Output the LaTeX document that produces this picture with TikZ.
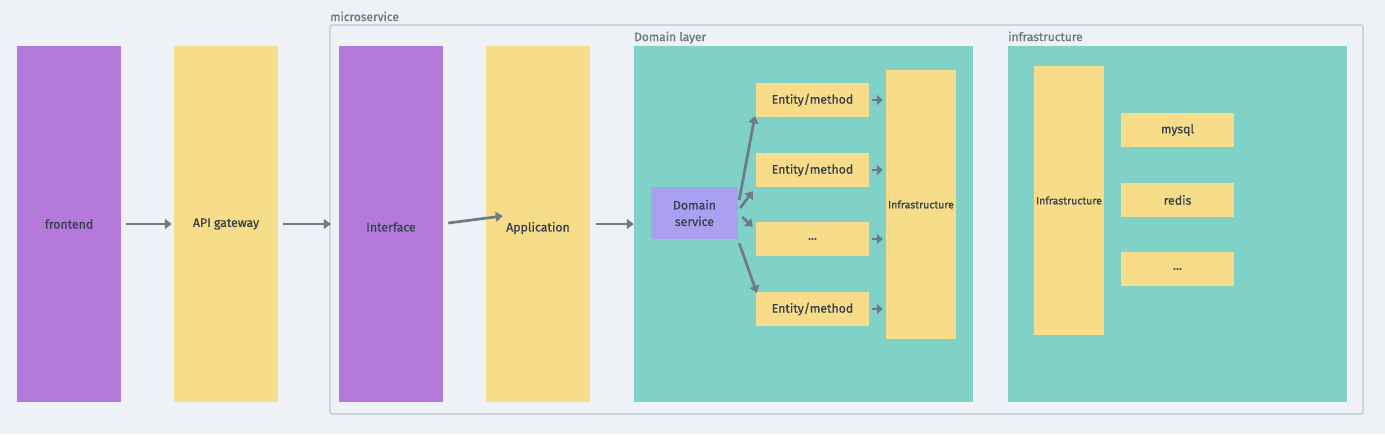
\documentclass[tikz,border=0pt]{standalone}
\usepackage{fontspec}
\setmainfont{Fira Sans}[UprightFeatures={FakeBold=0.8}]
\usetikzlibrary{arrows.meta,calc}
\definecolor{bg}{HTML}{EEF1F5}
\definecolor{purp}{HTML}{B479DA}
\definecolor{yel}{HTML}{F7DC8A}
\definecolor{teal}{HTML}{80D1C7}
\definecolor{lav}{HTML}{AB9FF2}
\definecolor{arrc}{HTML}{6E7A87}
\definecolor{txt}{HTML}{36404E}
\definecolor{grp}{HTML}{6B7785}
\definecolor{frame}{HTML}{BDC6D0}
\tikzset{
  box/.style={rectangle, inner sep=0pt, text=txt, font=\fontsize{12.3}{16.5}\selectfont, align=center},
  purpbox/.style={box, fill=purp},
  yelbox/.style={box, fill=yel},
  tealbox/.style={rectangle, inner sep=0pt, fill=teal},
  lavbox/.style={box, fill=lav},
  smalltxt/.style={font=\fontsize{10.6}{12}\selectfont},
  grplabel/.style={anchor=base west, inner sep=0pt, text=grp, font=\fontsize{12}{13}\selectfont},
  arr/.style={draw=arrc, line width=2.7pt, -{Triangle[length=7pt,width=10pt]}}
}
\begin{document}
\begin{tikzpicture}[x=1pt,y=-1pt]
\fill[bg] (0,0) rectangle (1385,434);
\useasboundingbox (0,0) rectangle (1385,434);
% microservice frame
\draw[frame, line width=1.2pt, rounded corners=2pt] (330,25) rectangle (1363,414);
\node[grplabel] (mslabel) at (330,21) {microservice};
% left columns
\node[purpbox, minimum width=104pt, minimum height=356pt] (frontend) at (69,224) {frontend};
\node[yelbox, minimum width=104pt, minimum height=356pt] (gateway) at (226,224) {API gateway};
\node[purpbox, minimum width=104pt, minimum height=356pt] (interface) at (391,224) {\raisebox{-7.5pt}[0pt][0pt]{Interface}};
\node[yelbox, minimum width=104pt, minimum height=356pt] (application) at (538,224) {\raisebox{-7.5pt}[0pt][0pt]{Application}};
% domain layer
\node[tealbox, minimum width=339pt, minimum height=356pt] (domain) at (803.5,224) {};
\node[grplabel] (dllabel) at (634,41) {Domain layer};
\node[lavbox, minimum width=87pt, minimum height=52pt] (ds) at (694.5,213) {Domain\\service};
\node[yelbox, minimum width=113pt, minimum height=34pt] (e1) at (812.5,100) {Entity/method};
\node[yelbox, minimum width=113pt, minimum height=34pt] (e2) at (812.5,170) {Entity/method};
\node[yelbox, minimum width=113pt, minimum height=34pt] (e3) at (812.5,239) {...};
\node[yelbox, minimum width=113pt, minimum height=34pt] (e4) at (812.5,309) {Entity/method};
\node[yelbox, smalltxt, minimum width=70pt, minimum height=269pt] (dinfra) at (921,204.5) {Infrastructure};
% infrastructure layer
\node[tealbox, minimum width=339pt, minimum height=356pt] (infra) at (1177.5,224) {};
\node[grplabel] (inflabel) at (1008,41) {infrastructure};
\node[yelbox, smalltxt, minimum width=70pt, minimum height=269pt] (iinfra) at (1069,200.5) {Infrastructure};
\node[yelbox, minimum width=113pt, minimum height=34pt] (mysql) at (1177.5,130) {mysql};
\node[yelbox, minimum width=113pt, minimum height=34pt] (redis) at (1177.5,200) {redis};
\node[yelbox, minimum width=113pt, minimum height=34pt] (etc) at (1177.5,269) {...};
% arrows
\draw[arr] ([xshift=5pt]frontend.east) -- ([xshift=-2pt]gateway.west);
\draw[arr] ([xshift=5pt]gateway.east) -- ([xshift=-8pt]interface.west);
\draw[arr] ([shift={(5,-1)}]interface.east) -- ([shift={(17,-8)}]application.west);
\draw[arr] ([xshift=6pt]application.east) -- (domain.west);
\draw[arr] ([shift={(1,-13)}]ds.east) -- ([shift={(-1,-1)}]e1.south west);
\draw[arr] ([shift={(2,-5)}]ds.east) -- ([shift={(-3,4)}]e2.south west);
\draw[arr] ([shift={(4,4)}]ds.east) -- ([shift={(-3,5)}]e3.north west);
\draw[arr] ([shift={(1,4)}]ds.south east) -- ([shift={(1,1)}]e4.north west);
\foreach \e in {e1,e2,e3,e4}{
  \draw[arr, -{Triangle[length=6pt,width=10pt]}] ([xshift=3pt]\e.east) -- ([xshift=-3pt]\e.east -| dinfra.west);
}
\end{tikzpicture}
\end{document}
